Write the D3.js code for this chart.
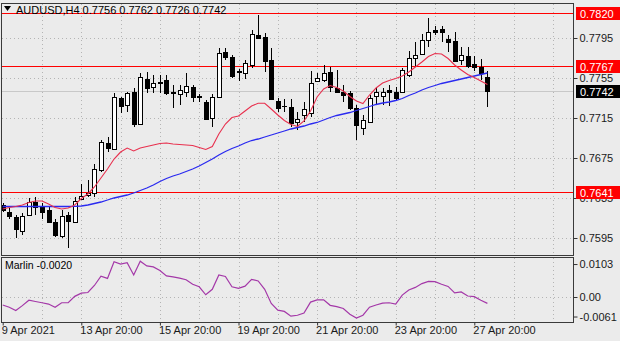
<!DOCTYPE html>
<html><head><meta charset="utf-8">
<script src="https://cdn.jsdelivr.net/npm/d3@7"></script>
<style>
body{margin:0;background:#ebebeb;}
svg{display:block;font-family:"Liberation Sans",Arial,sans-serif;}
</style>
</head><body><svg id="c" width="620" height="341"></svg>
<script>
// ---- data (AUDUSD H4) ----
const opens  = [0.7628,0.7621,0.7616,0.7602,0.7618,0.7631,0.7627,0.7623,0.7611,0.7597,0.7618,0.7611,0.7634,0.7638,0.7640,0.7663,0.7690,0.7684,0.7735,0.7728,0.7741,0.7709,0.7754,0.7746,0.7751,0.7753,0.7741,0.7739,0.7741,0.7746,0.7737,0.7731,0.7715,0.7736,0.7781,0.7776,0.7762,0.7760,0.7768,0.7798,0.7796,0.7773,0.7732,0.7727,0.7726,0.7711,0.7718,0.7720,0.7752,0.7753,0.7761,0.7745,0.7741,0.7740,0.7725,0.7705,0.7711,0.7737,0.7737,0.7743,0.7741,0.7741,0.7758,0.7775,0.7779,0.7793,0.7803,0.7804,0.7794,0.7792,0.7773,0.7777,0.7769,0.7766,0.7756];
const highs  = [0.7630,0.7626,0.7618,0.7620,0.7635,0.7636,0.7630,0.7626,0.7614,0.7623,0.7621,0.7636,0.7649,0.7653,0.7669,0.7693,0.7696,0.7740,0.7736,0.7741,0.7745,0.7760,0.7761,0.7758,0.7758,0.7758,0.7748,0.7748,0.7760,0.7748,0.7739,0.7733,0.7739,0.7785,0.7785,0.7778,0.7764,0.7773,0.7803,0.7818,0.7800,0.7785,0.7735,0.7734,0.7734,0.7721,0.7731,0.7762,0.7760,0.7768,0.7766,0.7763,0.7748,0.7742,0.7728,0.7718,0.7738,0.7746,0.7745,0.7748,0.7746,0.7765,0.7782,0.7791,0.7799,0.7815,0.7807,0.7807,0.7798,0.7801,0.7786,0.7786,0.7777,0.7774,0.7762];
const lows   = [0.7621,0.7614,0.7595,0.7598,0.7617,0.7618,0.7614,0.7610,0.7596,0.7595,0.7585,0.7611,0.7633,0.7636,0.7636,0.7661,0.7681,0.7683,0.7720,0.7721,0.7706,0.7708,0.7740,0.7740,0.7740,0.7738,0.7725,0.7728,0.7736,0.7731,0.7731,0.7713,0.7706,0.7735,0.7773,0.7755,0.7752,0.7754,0.7765,0.7795,0.7761,0.7733,0.7721,0.7721,0.7706,0.7703,0.7711,0.7716,0.7751,0.7751,0.7741,0.7740,0.7731,0.7723,0.7693,0.7698,0.7710,0.7728,0.7728,0.7727,0.7733,0.7740,0.7756,0.7766,0.7778,0.7786,0.7798,0.7791,0.7781,0.7771,0.7768,0.7765,0.7762,0.7753,0.7726];
const closes = [0.7623,0.7617,0.7604,0.7617,0.7631,0.7626,0.7621,0.7611,0.7598,0.7617,0.7612,0.7632,0.7637,0.7640,0.7664,0.7691,0.7685,0.7736,0.7727,0.7740,0.7709,0.7756,0.7745,0.7750,0.7750,0.7740,0.7740,0.7743,0.7747,0.7736,0.7736,0.7714,0.7736,0.7780,0.7776,0.7757,0.7761,0.7770,0.7799,0.7795,0.7772,0.7734,0.7725,0.7727,0.7710,0.7714,0.7724,0.7750,0.7755,0.7760,0.7746,0.7741,0.7738,0.7725,0.7708,0.7713,0.7735,0.7741,0.7741,0.7741,0.7735,0.7763,0.7775,0.7778,0.7793,0.7801,0.7801,0.7801,0.7791,0.7772,0.7778,0.7767,0.7766,0.7760,0.7742];
const maFast = [0.7624,0.76255,0.76265,0.7628,0.76305,0.7632,0.7632,0.7629,0.76255,0.7624,0.7625,0.7628,0.76345,0.7639,0.7646,0.7655,0.7664,0.7674,0.7681,0.7685,0.7682,0.7685,0.76865,0.7688,0.76895,0.7690,0.7689,0.76885,0.7688,0.76875,0.76855,0.76835,0.76865,0.7699,0.7709,0.77155,0.7717,0.7722,0.7727,0.77297,0.77297,0.7724,0.7718,0.77125,0.77085,0.77065,0.7712,0.7722,0.7736,0.7744,0.77475,0.77455,0.7742,0.77365,0.7732,0.77295,0.7738,0.7745,0.7750,0.77525,0.77545,0.7757,0.7761,0.7766,0.7771,0.77765,0.77795,0.7779,0.77745,0.7768,0.7763,0.77585,0.77555,0.7752,0.77485];
const maSlow = [0.76265,0.76265,0.76265,0.76265,0.76265,0.76265,0.76265,0.76265,0.76265,0.76265,0.76265,0.76267,0.7627,0.7628,0.76295,0.7631,0.7633,0.7635,0.76365,0.7638,0.7640,0.76425,0.7645,0.7648,0.76515,0.76545,0.7657,0.7659,0.76615,0.7664,0.7667,0.76705,0.7674,0.7678,0.76815,0.76845,0.7687,0.7690,0.76925,0.7694,0.7696,0.7698,0.7700,0.7702,0.7704,0.77055,0.7707,0.7709,0.77105,0.7713,0.77155,0.77175,0.7719,0.77205,0.77225,0.77245,0.77265,0.77285,0.7730,0.7731,0.77325,0.77345,0.77375,0.7740,0.7743,0.77455,0.77475,0.77495,0.7751,0.77525,0.7754,0.77555,0.7757,0.77585,0.7760];
const marlin = [-0.0025,-0.0032,-0.0042,-0.0027,-0.0010,-0.0014,-0.0018,-0.0022,-0.0032,-0.0018,-0.0018,0.0002,0.0012,0.0014,0.0036,0.0065,0.0058,0.0110,0.0103,0.0107,0.0069,0.0112,0.0097,0.0094,0.0083,0.0066,0.0063,0.0059,0.0054,0.0040,0.0032,0.0007,0.0024,0.0069,0.0064,0.0032,0.0027,0.0034,0.0055,0.0050,0.0024,-0.0020,-0.0041,-0.0045,-0.0060,-0.0057,-0.0050,-0.0016,-0.0009,-0.0009,-0.0026,-0.0030,-0.0036,-0.0054,-0.0066,-0.0057,-0.0032,-0.0025,-0.0019,-0.0018,-0.0022,0.0006,0.0022,0.0030,0.0042,0.0049,0.0048,0.0040,0.0033,0.0013,0.0016,0.0003,0.0001,-0.0010,-0.0020];
const timeTickIdx = [0,12,24,36,48,60,72];
const timeTickLabels = ["9 Apr 2021","13 Apr 20:00","15 Apr 20:00","19 Apr 20:00","21 Apr 20:00","23 Apr 20:00","27 Apr 20:00"];
const priceTicks = [0.7795,0.7755,0.7715,0.7675,0.7635,0.7595];
const levelLines = [0.7820,0.7767,0.7641];
const lastPrice = 0.7742;
const marlinTicks = [0.0103,0,-0.0061];
const marlinTickLabels = ["0.0103","0.00","-0.0061"];
const symbolTitle = "AUDUSD,H4  0.7756 0.7762 0.7726 0.7742";
const indicatorTitle = "Marlin -0.0020";

// ---- layout ----
const svg = d3.select("#c");
const L = 1, R = 573, T = 3, B = 255, T2 = 257, B2 = 322;
const x = d3.scaleLinear().domain([0, 74]).range([2.7, 487.4]);
const y = d3.scaleLinear().domain([0.7579, 0.7829]).range([254, 4]);
const ym = d3.scaleLinear().domain([-0.0075, 0.0125]).range([321, 257]);
const px = v => Math.round(v) + 0.5;

svg.append("rect").attr("width",620).attr("height",341).attr("fill","#ebebeb");

// grids
const grid = svg.append("g").attr("stroke","#b4b4b4").attr("stroke-dasharray","1,3").attr("stroke-width",1);
const gridIdx = d3.range(6, 90, 6).filter(i => x(i) < R - 2);
gridIdx.forEach(i => {
  grid.append("line").attr("x1",px(x(i))).attr("x2",px(x(i))).attr("y1",T+1).attr("y2",B);
  grid.append("line").attr("x1",px(x(i))).attr("x2",px(x(i))).attr("y1",T2+1).attr("y2",B2);
});
priceTicks.forEach(p => grid.append("line").attr("x1",L+1).attr("x2",R).attr("y1",px(y(p))).attr("y2",px(y(p))));
grid.append("line").attr("x1",L+1).attr("x2",R).attr("y1",px(ym(0))).attr("y2",px(ym(0)));

// bid line
svg.append("line").attr("x1",L+1).attr("x2",R).attr("y1",px(y(lastPrice))).attr("y2",px(y(lastPrice)))
  .attr("stroke","#c8c8c8").attr("stroke-width",1);

// level lines
levelLines.forEach(p => svg.append("line").attr("x1",L+1).attr("x2",R).attr("y1",px(y(p))).attr("y2",px(y(p)))
  .attr("stroke","#ff0000").attr("stroke-width",1));

// candles
const candles = svg.append("g");
opens.forEach((o, i) => {
  const c = closes[i], h = highs[i], l = lows[i];
  const cx = Math.round(x(i));
  candles.append("line").attr("x1",cx+0.5).attr("x2",cx+0.5).attr("y1",Math.round(y(h))).attr("y2",Math.round(y(l)))
    .attr("stroke","#000").attr("stroke-width",1);
  const yt = Math.round(y(Math.max(o,c))), yb = Math.round(y(Math.min(o,c)));
  if (yb - yt < 1) {
    candles.append("line").attr("x1",cx-2).attr("x2",cx+3).attr("y1",yt+0.5).attr("y2",yt+0.5).attr("stroke","#000");
  } else {
    candles.append("rect").attr("x",cx-1.5).attr("y",yt+0.5).attr("width",4).attr("height",yb-yt)
      .attr("fill", c >= o ? "#ffffff" : "#000000").attr("stroke","#000").attr("stroke-width",1);
  }
});

// moving averages
const lineMain = arr => d3.line().x((d,i)=>x(i)).y(d=>y(d))(arr);
svg.append("path").attr("d",lineMain(maSlow)).attr("fill","none").attr("stroke","#2a2af0").attr("stroke-width",1.3);
svg.append("path").attr("d",lineMain(maFast)).attr("fill","none").attr("stroke","#e8304e").attr("stroke-width",1.1);

// indicator line
svg.append("path").attr("d",d3.line().x((d,i)=>x(i)).y(d=>ym(d))(marlin))
  .attr("fill","none").attr("stroke","#a438a8").attr("stroke-width",1.2);

// frames
svg.append("rect").attr("x",L+0.5).attr("y",T+0.5).attr("width",R-L).attr("height",B-T).attr("fill","none").attr("stroke","#3a3a3a");
svg.append("rect").attr("x",L+0.5).attr("y",T2+0.5).attr("width",R-L).attr("height",B2-T2).attr("fill","none").attr("stroke","#3a3a3a");

// right price axis
const ax = svg.append("g").attr("transform",`translate(${R+0.5},0)`)
  .call(d3.axisRight(y).tickValues(priceTicks).tickSize(4).tickPadding(2).tickFormat(d3.format(".4f")));
ax.select(".domain").remove();
ax.selectAll("line").attr("stroke","#333");
ax.selectAll("text").attr("fill","#1a1a1a").style("font-size","11px").style("font-family","Liberation Sans, Arial, sans-serif");

// level labels
function tag(p, bg, txt){
  const yy = y(p);
  svg.append("rect").attr("x",R+3).attr("y",Math.round(yy)-6).attr("width",44).attr("height",13).attr("fill",bg);
  svg.append("text").attr("x",R+7).attr("y",Math.round(yy)+4.5).attr("fill","#fff").style("font-size","11px").text(txt);
}
levelLines.forEach(p => tag(p, "#ff0000", d3.format(".4f")(p)));
tag(lastPrice, "#000000", d3.format(".4f")(lastPrice));

// indicator axis
const axm = svg.append("g").attr("transform",`translate(${R+0.5},0)`)
  .call(d3.axisRight(ym).tickValues(marlinTicks).tickSize(4).tickPadding(2).tickFormat((d,i)=>marlinTickLabels[i]));
axm.select(".domain").remove();
axm.selectAll("line").attr("stroke","#333");
axm.selectAll("text").attr("fill","#1a1a1a").style("font-size","11px").style("font-family","Liberation Sans, Arial, sans-serif");

// bottom time axis
const bx = svg.append("g").attr("transform",`translate(0.5,${B2+0.5})`)
  .call(d3.axisBottom(x).tickValues(timeTickIdx).tickSize(3).tickPadding(1).tickFormat((d,i)=>timeTickLabels[i]));
bx.select(".domain").remove();
bx.selectAll("line").attr("stroke","#333").attr("transform","translate(-0.5,0)");
bx.selectAll("text").attr("text-anchor","start").attr("dx",-2).attr("fill","#1a1a1a")
  .style("font-size","11px").style("font-family","Liberation Sans, Arial, sans-serif");

// titles
svg.append("path").attr("d","M4,6 L11,6 L7.5,11 Z").attr("fill","#000");
svg.append("text").attr("x",16).attr("y",14).attr("fill","#000").style("font-size","11px").text(symbolTitle);
svg.append("text").attr("x",5).attr("y",269).attr("fill","#000").style("font-size","10.5px").text(indicatorTitle);
</script>
</body></html>
